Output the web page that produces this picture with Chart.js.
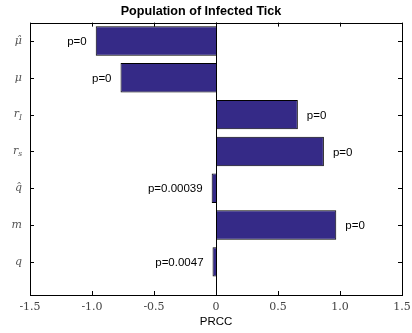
<!DOCTYPE html>
<html>
<head>
<meta charset="utf-8">
<script src="https://cdn.jsdelivr.net/npm/chart.js@4.4.0/dist/chart.umd.min.js"></script>
<style>
  html, body { margin: 0; padding: 0; background: #fff; }
  canvas { display: block; }
</style>
</head>
<body>
<canvas id="chart" width="412" height="333"></canvas>
<script>
// parameters, top to bottom ("_" marks a subscript)
const params = ['\u03bc\u0302', '\u03bc', 'r_I', 'r_s', 'q\u0302', 'm', 'q'];
const prcc = [-0.97, -0.77, 0.66, 0.87, -0.035, 0.97, -0.028];
const pLabels = ['p=0', 'p=0', 'p=0', 'p=0', 'p=0.00039', 'p=0', 'p=0.0047'];
const xTicks = [-1.5, -1, -0.5, 0, 0.5, 1, 1.5];

const barColor = '#352a87';

// box, inward tick marks, zero line, y labels and p-values
const axesPlugin = {
    id: 'axesBox',
    afterDatasetsDraw(chart) {
        const ctx = chart.ctx;
        const a = chart.chartArea;
        const xs = chart.scales.x;
        const ys = chart.scales.y;
        ctx.save();
        ctx.strokeStyle = '#000';
        ctx.lineWidth = 1;

        // zero line
        const x0 = Math.round(xs.getPixelForValue(0)) + 0.5;
        ctx.beginPath();
        ctx.moveTo(x0, a.top);
        ctx.lineTo(x0, a.bottom);
        ctx.stroke();

        // box
        ctx.strokeRect(Math.round(a.left) + 0.5, Math.round(a.top) + 0.5,
            Math.round(a.right - a.left), Math.round(a.bottom - a.top));

        // ticks
        const tl = 4;
        ctx.beginPath();
        xTicks.forEach(v => {
            const px = Math.round(xs.getPixelForValue(v)) + 0.5;
            ctx.moveTo(px, a.bottom);
            ctx.lineTo(px, a.bottom - tl);
            ctx.moveTo(px, a.top);
            ctx.lineTo(px, a.top + tl);
        });
        params.forEach((p, i) => {
            const py = Math.round(ys.getPixelForValue(i + 1)) + 0.5;
            ctx.moveTo(a.left, py);
            ctx.lineTo(a.left + tl, py);
            ctx.moveTo(a.right, py);
            ctx.lineTo(a.right - tl, py);
        });
        ctx.stroke();

        // y labels
        ctx.fillStyle = '#555';
        ctx.textBaseline = 'middle';
        params.forEach((p, i) => {
            const py = ys.getPixelForValue(i + 1);
            const parts = p.split('_');
            const mainFont = 'italic 11px "DejaVu Serif"';
            const subFont = 'italic 7.5px "DejaVu Serif"';
            ctx.font = mainFont;
            const w1 = ctx.measureText(parts[0]).width;
            let w2 = 0;
            if (parts[1]) {
                ctx.font = subFont;
                w2 = ctx.measureText(parts[1]).width;
            }
            const right = a.left - 8;
            const start = right - w1 - w2;
            ctx.textAlign = 'left';
            ctx.font = mainFont;
            ctx.fillText(parts[0], start, py);
            if (parts[1]) {
                ctx.font = subFont;
                ctx.fillText(parts[1], start + w1, py + 3);
            }
        });

        // p-values
        const meta = chart.getDatasetMeta(0);
        ctx.fillStyle = '#000';
        ctx.font = '11.5px "Liberation Sans"';
        meta.data.forEach((bar, i) => {
            const neg = prcc[i] < 0;
            ctx.textAlign = neg ? 'right' : 'left';
            ctx.fillText(pLabels[i], bar.x + (neg ? -9 : 9), bar.y + 1);
        });
        ctx.restore();
    }
};

new Chart(document.getElementById('chart'), {
    type: 'bar',
    data: {
        datasets: [{
            data: prcc.map((v, i) => ({ x: v, y: i + 1 })),
            backgroundColor: barColor,
            borderColor: '#000',
            borderWidth: 1,
            categoryPercentage: 1,
            barPercentage: 0.8
        }]
    },
    options: {
        indexAxis: 'y',
        responsive: false,
        animation: false,
        devicePixelRatio: 1,
        layout: { padding: { left: 0, right: 10, top: 0, bottom: 0 } },
        plugins: {
            legend: { display: false },
            tooltip: { enabled: false },
            title: {
                display: true,
                text: 'Population of Infected Tick',
                color: '#000',
                font: { family: 'Liberation Sans', size: 12.6, weight: 'bold' },
                padding: { top: 4, bottom: 3.5 }
            }
        },
        scales: {
            x: {
                type: 'linear',
                min: -1.5,
                max: 1.5,
                afterBuildTicks: s => { s.ticks = xTicks.map(v => ({ value: v })); },
                ticks: {
                    color: '#444',
                    font: { family: 'DejaVu Serif', size: 11 },
                    padding: 6,
                    maxRotation: 0
                },
                grid: { display: false, drawTicks: false },
                border: { display: false },
                title: {
                    display: true,
                    text: 'PRCC',
                    color: '#000',
                    font: { family: 'Liberation Sans', size: 11.5 },
                    padding: { top: 0, bottom: 4 }
                },
                afterFit: s => {
                    s.height = 38;
                    s.paddingLeft = 0;
                    s.paddingRight = 0;
                }
            },
            y: {
                type: 'linear',
                reverse: true,
                offset: false,
                min: 0.5,
                max: 7.9,
                afterBuildTicks: s => { s.ticks = params.map((p, i) => ({ value: i + 1 })); },
                ticks: { display: false },
                grid: { display: false, drawTicks: false, offset: false },
                border: { display: false },
                afterFit: s => { s.width = 30; }
            }
        }
    },
    plugins: [axesPlugin]
});
</script>
</body>
</html>
